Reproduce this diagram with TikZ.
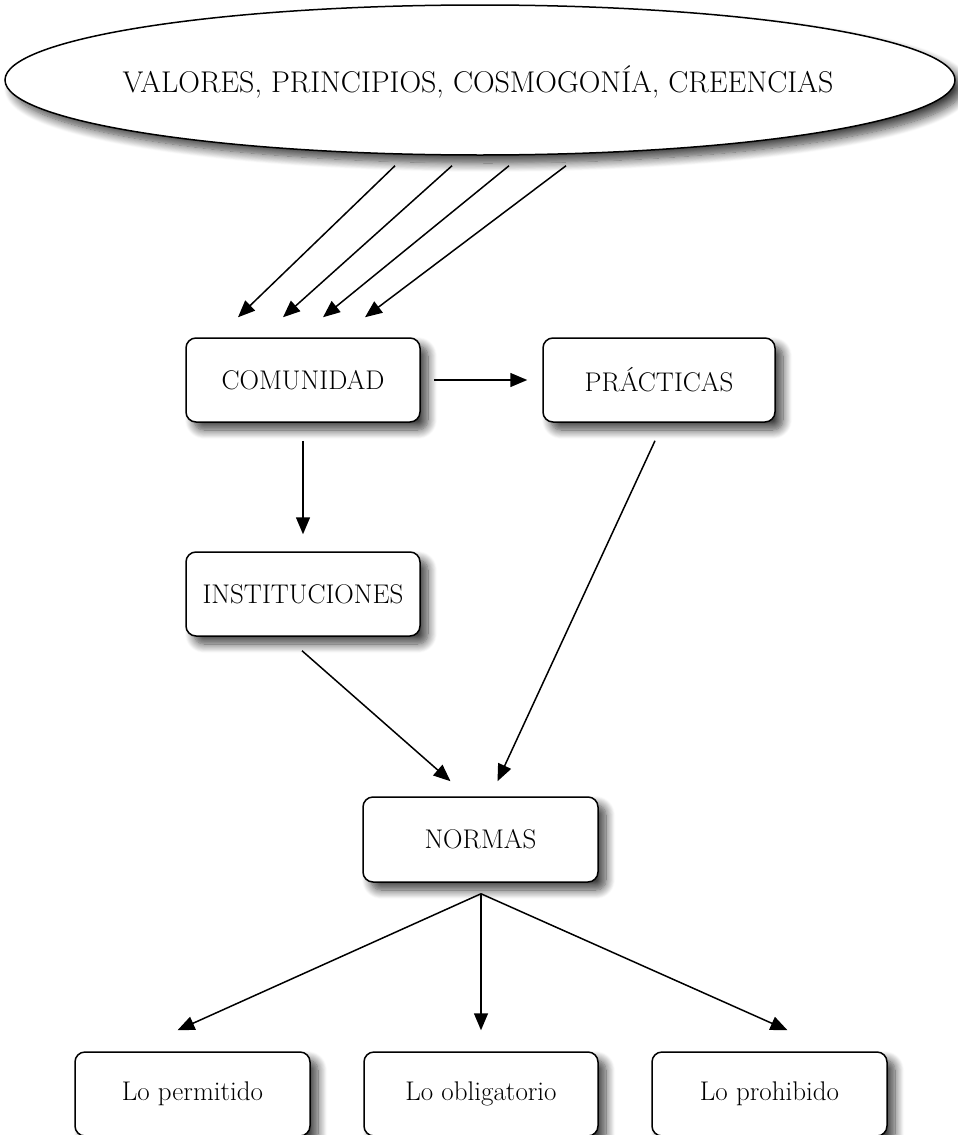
\documentclass[tikz,border=0pt]{standalone}
\usetikzlibrary{shapes.geometric,arrows.meta,shadows.blur,calc}
\begin{document}
\begin{tikzpicture}[x=1pt,y=-1pt,
  sh/.style={blur shadow={shadow xshift=8pt,shadow yshift=-8pt,shadow blur radius=9pt,shadow blur steps=12,shadow opacity=75}},
  box/.style={draw=black,line width=1.5pt,rounded corners=10pt,fill=white,sh,
    minimum width=234pt,minimum height=84pt,inner sep=0pt,font=\fontsize{27}{31}\selectfont},
  oval/.style={ellipse,draw=black,line width=1.5pt,fill=white,sh,
    minimum width=950pt,minimum height=150pt,inner sep=0pt},
  lbl/.style={inner sep=0pt,font=\fontsize{30}{34}\selectfont},
  arr/.style={line width=1.5pt,-{Triangle[length=17pt,width=14pt]}}
]
\useasboundingbox (0,0) rectangle (958,1135);

\node[oval] (top) at (480,80) {};
\node[lbl] (toptext) at (478,82) {VALORES, PRINCIPIOS, COSMOGONÍA, CREENCIAS};

\node[box] (com) at (303,380) {COMUNIDAD};
\node[box,minimum width=232pt] (prac) at (659,380) {PRÁCTICAS};
\node[box] (inst) at (303,594) {INSTITUCIONES};
\node[box,minimum width=235pt,minimum height=85pt] (norm) at (480.5,839.5) {NORMAS};
\node[box,minimum width=235pt] (perm) at (192.5,1094) {Lo permitido};
\node[box] (obl) at (481,1094) {Lo obligatorio};
\node[box,minimum width=235pt] (proh) at (769.5,1094) {Lo prohibido};

\draw[arr] ($(top.south)+(-85,10)$) -- ($(com.north)+(-65,-20)$);
\draw[arr] ($(top.south)+(-28,10)$) -- ($(com.north)+(-20,-20)$);
\draw[arr] ($(top.south)+(29,10)$) -- ($(com.north)+(20,-20)$);
\draw[arr] ($(top.south)+(86,10)$) -- ($(com.north)+(62,-20)$);

\draw[arr] ($(com.east)+(13,0)$) -- ($(prac.west)+(-15,0)$);
\draw[arr] ($(com.south)+(0,18)$) -- ($(inst.north)+(0,-17)$);
\draw[arr] ($(inst.south)+(-1,14)$) -- ($(norm.north)+(-30,-15)$);
\draw[arr] ($(prac.south)+(-4,18)$) -- ($(norm.north)+(17,-15)$);

\coordinate (apex) at ($(norm.south)+(0.5,11)$);
\draw[arr] (apex) -- ($(perm.north)+(-15,-21)$);
\draw[arr] (apex) -- ($(obl.north)+(0,-21)$);
\draw[arr] (apex) -- ($(proh.north)+(18,-21)$);
\end{tikzpicture}
\end{document}
